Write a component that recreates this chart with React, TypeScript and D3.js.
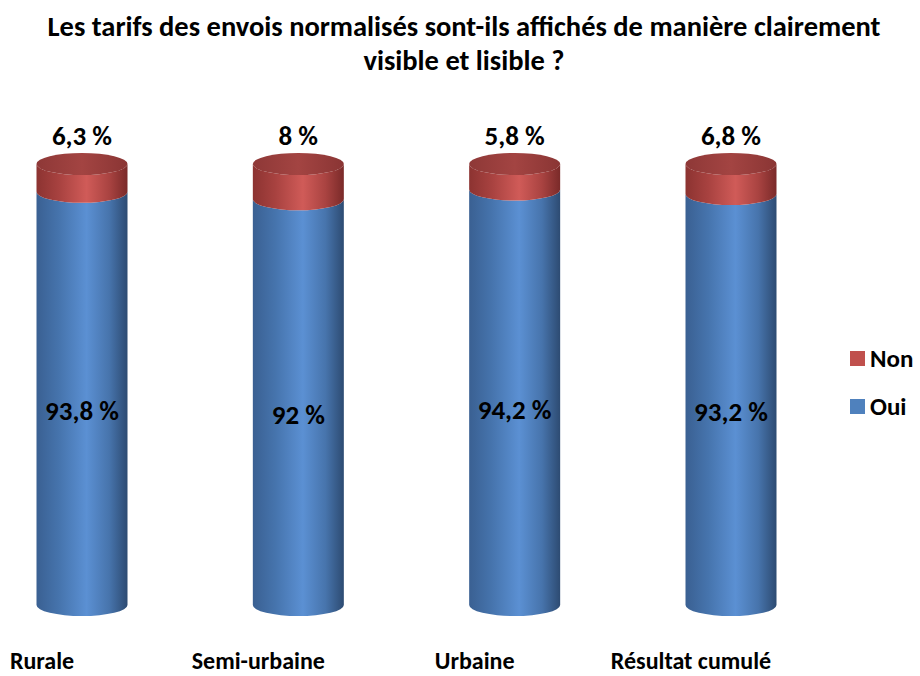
import React, { useEffect, useRef } from 'react';
import * as d3 from 'd3';

const categories = ['Rurale', 'Semi-urbaine', 'Urbaine', 'Résultat cumulé'];
const oui = [93.8, 92, 94.2, 93.2];
const non = [6.3, 8, 5.8, 6.8];
const ouiLabels = ['93,8 %', '92 %', '94,2 %', '93,2 %'];
const nonLabels = ['6,3 %', '8 %', '5,8 %', '6,8 %'];
const legendItems = [
    { name: 'Non', color: '#c0504d' },
    { name: 'Oui', color: '#4f81bd' },
];

const font = "Carlito, Lato, 'Open Sans', sans-serif";

function App() {
    const chartRef = useRef<SVGSVGElement>(null);

    useEffect(() => {
        const svg = d3.select(chartRef.current);
        svg.selectAll('*').remove();

        const W = 920, H = 676;
        svg.attr('width', W).attr('height', H).style('background', '#fff');

        const defs = svg.append('defs');
        const grad = (id: string, stops: [number, string][]) => {
            const g = defs.append('linearGradient').attr('id', id)
                .attr('x1', '0%').attr('x2', '100%').attr('y1', '0%').attr('y2', '0%');
            stops.forEach(([o, c]) => g.append('stop').attr('offset', o + '%').attr('stop-color', c));
        };
        grad('blueSide', [[0, '#3a6092'], [25, '#4674ad'], [55, '#5b90d3'], [80, '#4774ac'], [100, '#2d4b72']]);
        grad('redSide', [[0, '#8c3331'], [25, '#a84240'], [55, '#d05b58'], [80, '#a94341'], [100, '#7a2a29']]);
        grad('redTop', [[0, '#8e3837'], [50, '#a34442'], [100, '#8a3534']]);

        const x = d3.scalePoint<string>().domain(categories).range([82, 731]);
        const y = d3.scaleLinear().domain([0, 100]).range([605, 164]);
        const rx = 45.5, ry = 11;

        const side = (cx: number, yTop: number, yBot: number) =>
            `M${cx - rx},${yTop} A${rx},${ry} 0 0 0 ${cx + rx},${yTop} ` +
            `L${cx + rx},${yBot} A${rx},${ry} 0 0 1 ${cx - rx},${yBot} Z`;

        const data = categories.map((c, i) => ({ c, oui: oui[i], non: non[i], i }));

        const g = svg.append('g');
        data.forEach(d => {
            const cx = x(d.c)!;
            const total = d.oui + d.non;
            const split = (d.oui / total) * 100;
            // corps bleu
            g.append('path').attr('d', side(cx, y(split), y(0))).attr('fill', 'url(#blueSide)');
            // corps rouge
            g.append('path').attr('d', side(cx, y(100), y(split))).attr('fill', 'url(#redSide)');
            // dessus rouge
            g.append('ellipse').attr('cx', cx).attr('cy', y(100)).attr('rx', rx).attr('ry', ry)
                .attr('fill', 'url(#redTop)');

            // étiquettes
            g.append('text').attr('x', cx).attr('y', y(100) - 19)
                .attr('text-anchor', 'middle').style('font', `bold 27px ${font}`).attr('fill', '#000')
                .text(nonLabels[d.i]);
            g.append('text').attr('x', cx).attr('y', (y(split) + y(0)) / 2 + 22)
                .attr('text-anchor', 'middle').style('font', `bold 27px ${font}`).attr('fill', '#000')
                .text(ouiLabels[d.i]);
            g.append('text').attr('x', cx - 40).attr('y', 669)
                .attr('text-anchor', 'middle').style('font', `bold 24px ${font}`).attr('fill', '#000')
                .text(d.c);
        });

        // titre
        const title = svg.append('text').attr('text-anchor', 'middle')
            .style('font', `bold 28.5px ${font}`).attr('fill', '#000');
        title.append('tspan').attr('x', 464).attr('y', 36)
            .text('Les tarifs des envois normalisés sont-ils affichés de manière clairement');
        title.append('tspan').attr('x', 464).attr('y', 70).text('visible et lisible ?');

        // légende
        const legend = svg.append('g');
        legendItems.forEach((it, i) => {
            const ly = 351 + i * 48;
            legend.append('rect').attr('x', 850).attr('y', ly).attr('width', 15).attr('height', 15)
                .attr('fill', it.color);
            legend.append('text').attr('x', 870).attr('y', ly + 16)
                .style('font', `bold 25px ${font}`).attr('fill', '#000').text(it.name);
        });
    }, []);

    return <svg ref={chartRef} style={{ position: 'absolute', left: 0, top: 0 }}></svg>;
}

export default App;
